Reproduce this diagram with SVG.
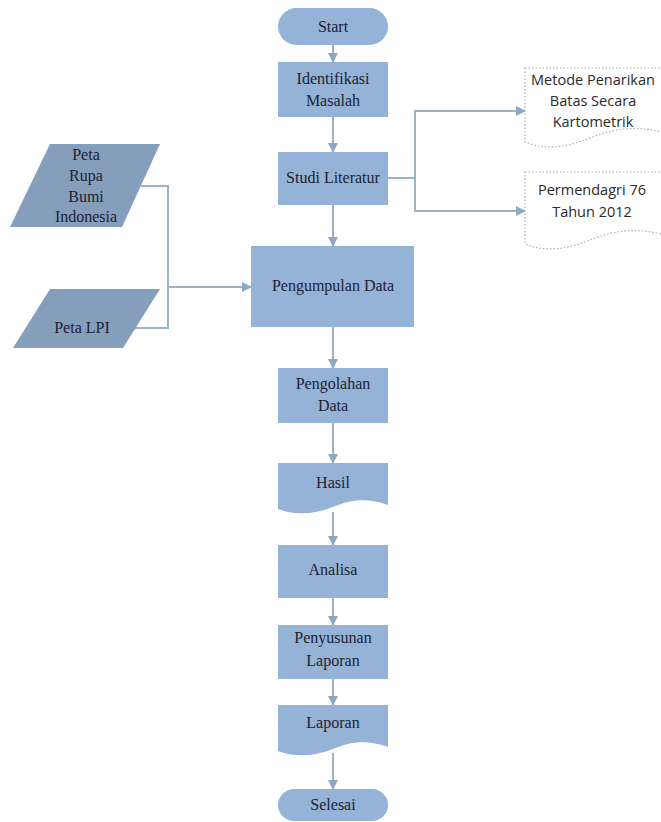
<svg xmlns="http://www.w3.org/2000/svg" width="661" height="822" viewBox="0 0 661 822">
<defs>
<style>
.box{fill:#95b3d7;}
.io{fill:#859ebc;}
.ref{fill:#ffffff;stroke:#a3b2c2;stroke-width:1.2;stroke-dasharray:1.5 2;}
.t{font-family:'Liberation Serif','Times New Roman',serif;font-size:16px;fill:#1c2233;text-anchor:middle;}
.s{font-family:'Open Sans','Liberation Sans',Arial,sans-serif;font-size:14.5px;fill:#2a2a2a;text-anchor:middle;}
.c{fill:none;stroke:#9cb2c9;stroke-width:2;}
.a{fill:none;stroke:#9cb2c9;stroke-width:2;marker-end:url(#arr);}
</style>
<marker id="arr" viewBox="0 0 10 10" refX="9" refY="5" markerWidth="5" markerHeight="5" orient="auto" markerUnits="strokeWidth">
<path d="M0,0 L10,5 L0,10 Z" fill="#8ea8c4"/>
</marker>
</defs>

<g id="connectors">
<line class="a" x1="333" y1="45" x2="333" y2="62"/>
<line class="a" x1="333" y1="117" x2="333" y2="152"/>
<line class="a" x1="333" y1="205" x2="333" y2="246"/>
<line class="a" x1="333" y1="327" x2="333" y2="368"/>
<line class="a" x1="333" y1="423" x2="333" y2="463"/>
<line class="a" x1="333" y1="512" x2="333" y2="545"/>
<line class="a" x1="333" y1="598" x2="333" y2="625"/>
<line class="a" x1="333" y1="679" x2="333" y2="705"/>
<line class="a" x1="333" y1="753" x2="333" y2="789"/>
<polyline class="c" points="141,186 168,186 168,328 135,328"/>
<line class="a" x1="168" y1="287" x2="251" y2="287"/>
<line class="c" x1="388" y1="178" x2="415" y2="178"/>
<line class="c" x1="415" y1="111" x2="415" y2="211"/>
<line class="a" x1="414" y1="111" x2="525" y2="111"/>
<line class="a" x1="414" y1="211" x2="525" y2="211"/>
</g>

<g id="start">
<rect class="box" x="278" y="8" width="110" height="37" rx="18.5"/>
<text class="t" x="333" y="32">Start</text>
</g>

<g id="identifikasi">
<rect class="box" x="278" y="62" width="110" height="55"/>
<text class="t" x="333" y="84">Identifikasi</text>
<text class="t" x="333" y="106">Masalah</text>
</g>

<g id="studi">
<rect class="box" x="278" y="152" width="110" height="53"/>
<text class="t" x="333" y="183">Studi Literatur</text>
</g>

<g id="metode">
<path class="ref" d="M525,68 H675 V136 C640,124 615,128 590,138 C565,148 545,150 525,142 Z"/>
<text class="s" x="593" y="85">Metode Penarikan</text>
<text class="s" x="593" y="106">Batas Secara</text>
<text class="s" x="593" y="127">Kartometrik</text>
</g>

<g id="permendagri">
<path class="ref" d="M525,172 H675 V238 C640,226 615,230 590,240 C565,250 545,252 525,244 Z"/>
<text class="s" x="592" y="195">Permendagri 76</text>
<text class="s" x="592" y="217">Tahun 2012</text>
</g>

<g id="peta-rbi">
<polygon class="io" points="50,144 160,144 122,227 10,227"/>
<text class="t" x="86" y="160">Peta</text>
<text class="t" x="86" y="181">Rupa</text>
<text class="t" x="86" y="202">Bumi</text>
<text class="t" x="86" y="222">Indonesia</text>
</g>

<g id="peta-lpi">
<polygon class="io" points="50,289 160,289 123,348 13,348"/>
<text class="t" x="82" y="333">Peta LPI</text>
</g>

<g id="pengumpulan">
<rect class="box" x="251" y="246" width="163" height="81"/>
<text class="t" x="333" y="291">Pengumpulan Data</text>
</g>

<g id="pengolahan">
<rect class="box" x="278" y="368" width="110" height="55"/>
<text class="t" x="333" y="389">Pengolahan</text>
<text class="t" x="333" y="411">Data</text>
</g>

<g id="hasil">
<path class="box" d="M278,463 H388 V505 C366,497 350,500 333,507 C313,515 293,515 278,509 Z"/>
<text class="t" x="333" y="488">Hasil</text>
</g>

<g id="analisa">
<rect class="box" x="278" y="545" width="110" height="53"/>
<text class="t" x="333" y="575">Analisa</text>
</g>

<g id="penyusunan">
<rect class="box" x="278" y="625" width="110" height="54"/>
<text class="t" x="333" y="643">Penyusunan</text>
<text class="t" x="333" y="666">Laporan</text>
</g>

<g id="laporan">
<path class="box" d="M278,705 H388 V747 C366,739 350,742 333,749 C313,757 293,757 278,751 Z"/>
<text class="t" x="333" y="728">Laporan</text>
</g>

<g id="selesai">
<rect class="box" x="278" y="789" width="110" height="32" rx="16"/>
<text class="t" x="333" y="810">Selesai</text>
</g>
</svg>
